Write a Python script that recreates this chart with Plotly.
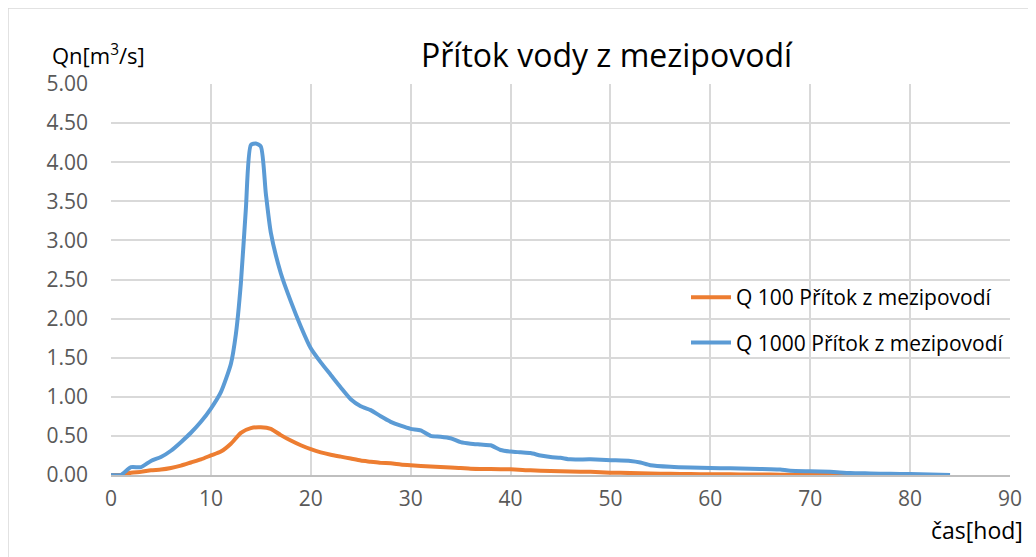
import plotly.graph_objects as go

# ---- data ----
q100_x = [0, 1, 2, 3, 4, 5, 6, 7, 8, 9, 10, 11, 12, 13, 14, 15, 16, 17, 18, 19, 20,
          21, 22, 23, 24, 25, 26, 27, 28, 29, 30, 32, 34, 35, 36, 38, 40, 42, 44, 46,
          48, 50, 52, 54, 56, 58, 60, 62, 64, 66, 68, 70, 72, 74, 76]
q100_y = [0, 0, 0.03, 0.04, 0.06, 0.07, 0.09, 0.12, 0.16, 0.20, 0.25, 0.30, 0.40, 0.54,
          0.60, 0.61, 0.59, 0.51, 0.44, 0.38, 0.33, 0.29, 0.26, 0.235, 0.21, 0.185,
          0.17, 0.155, 0.15, 0.135, 0.125, 0.108, 0.095, 0.09, 0.08, 0.076, 0.072,
          0.06, 0.052, 0.045, 0.04, 0.03, 0.025, 0.02, 0.015, 0.012, 0.01, 0.008,
          0.006, 0.005, 0.004, 0.003, 0.002, 0.001, 0.0]

q1000_x = [0, 1, 2, 3, 4, 5, 6, 7, 8, 9, 10, 11, 12, 12.5, 13, 13.5, 14, 14.5, 15,
           15.5, 16, 17, 18, 19, 20, 21, 22, 23, 24, 25, 26, 27, 28, 29, 30, 31, 32,
           33, 34, 35, 36, 37, 38, 39, 40, 41, 42, 43, 44, 45, 46, 48, 50, 52, 53,
           54, 56, 58, 60, 62, 64, 66, 67, 68, 70, 72, 74, 76, 78, 80, 82, 84]
q1000_y = [0, 0, 0.10, 0.10, 0.18, 0.23, 0.31, 0.42, 0.54, 0.68, 0.85, 1.06, 1.42,
           1.80, 2.45, 3.40, 4.22, 4.24, 4.20, 3.60, 3.10, 2.58, 2.22, 1.90, 1.62,
           1.44, 1.28, 1.12, 0.97, 0.88, 0.83, 0.75, 0.68, 0.63, 0.59, 0.57, 0.50,
           0.49, 0.47, 0.42, 0.40, 0.39, 0.38, 0.32, 0.30, 0.29, 0.28, 0.25, 0.23,
           0.22, 0.20, 0.20, 0.19, 0.18, 0.16, 0.125, 0.105, 0.095, 0.09, 0.085,
           0.08, 0.075, 0.07, 0.055, 0.047, 0.04, 0.025, 0.02, 0.015, 0.012, 0.006, 0.0]

series_names = ["Q 100 Přítok z mezipovodí", "Q 1000 Přítok z mezipovodí"]
series_colors = ["#ED7D31", "#5B9BD5"]

title_text = "Přítok vody z mezipovodí"
y_label = "Qn[m<sup>3</sup>/s]"
x_label = "čas[hod]"

FONT = "Open Sans"

fig = go.Figure()
fig.add_trace(go.Scatter(x=q100_x, y=q100_y, mode="lines", name=series_names[0],
                         line=dict(color=series_colors[0], width=4, shape="spline", smoothing=0.6),
                         legendgroup="a"))
fig.add_trace(go.Scatter(x=q1000_x, y=q1000_y, mode="lines", name=series_names[1],
                         line=dict(color=series_colors[1], width=4, shape="spline", smoothing=0.6),
                         legendgroup="b"))

# page offset of 8 px (body margin): plot area spans page x 111..1010, y 84..475
PX0, PW, PY0, PH = 111, 899, 475, 391


def px(xp):
    return (xp - PX0) / PW


def py(yp):
    return (PY0 - yp) / PH


grid = "#D9D9D9"
fig.update_layout(
    width=1036, height=557,
    margin=dict(l=103, r=34, t=76, b=90),
    paper_bgcolor="white", plot_bgcolor="white",
    font=dict(family=FONT, color="#000000"),
    showlegend=True,
    legend=dict(x=px(686), y=py(320), xanchor="left", yanchor="middle",
                bgcolor="rgba(0,0,0,0)", font=dict(size=21, color="#000000"),
                traceorder="grouped", tracegroupgap=15, itemwidth=40),
    xaxis=dict(range=[0, 90], dtick=10, tick0=0, showgrid=True, gridcolor=grid,
               gridwidth=1.5, zeroline=False, showline=True, linecolor="#BFBFBF",
               linewidth=1.5, ticks="", ticklabelstandoff=4,
               tickfont=dict(size=21, color="#595959", family=FONT)),
    yaxis=dict(range=[0, 5], dtick=0.5, tick0=0, tickformat=".2f", showgrid=True,
               gridcolor=grid, gridwidth=1.5, zeroline=False, showline=False,
               ticks="", ticklabelstandoff=22,
               tickfont=dict(size=21, color="#595959", family=FONT)),
    annotations=[
        dict(text=title_text, xref="paper", yref="paper", x=px(607),
             y=py(55), xanchor="center", yanchor="middle", showarrow=False,
             font=dict(size=32, color="#000000", family=FONT)),
        dict(text=y_label, xref="paper", yref="paper", x=px(50),
             y=py(55), xanchor="left", yanchor="middle", showarrow=False,
             font=dict(size=22, color="#000000", family=FONT)),
        dict(text=x_label, xref="paper", yref="paper", x=px(1025),
             y=py(530), xanchor="right", yanchor="middle", showarrow=False,
             font=dict(size=23, color="#000000", family=FONT)),
    ],
    shapes=[
        dict(type="line", xref="paper", yref="paper", x0=px(8), x1=px(1040),
             y0=py(8), y1=py(8), line=dict(color="#D9D9D9", width=1.5)),
        dict(type="line", xref="paper", yref="paper", x0=px(8), x1=px(8),
             y0=py(8), y1=py(560), line=dict(color="#D9D9D9", width=1.5)),
    ],
)

fig.write_html("out.html")
